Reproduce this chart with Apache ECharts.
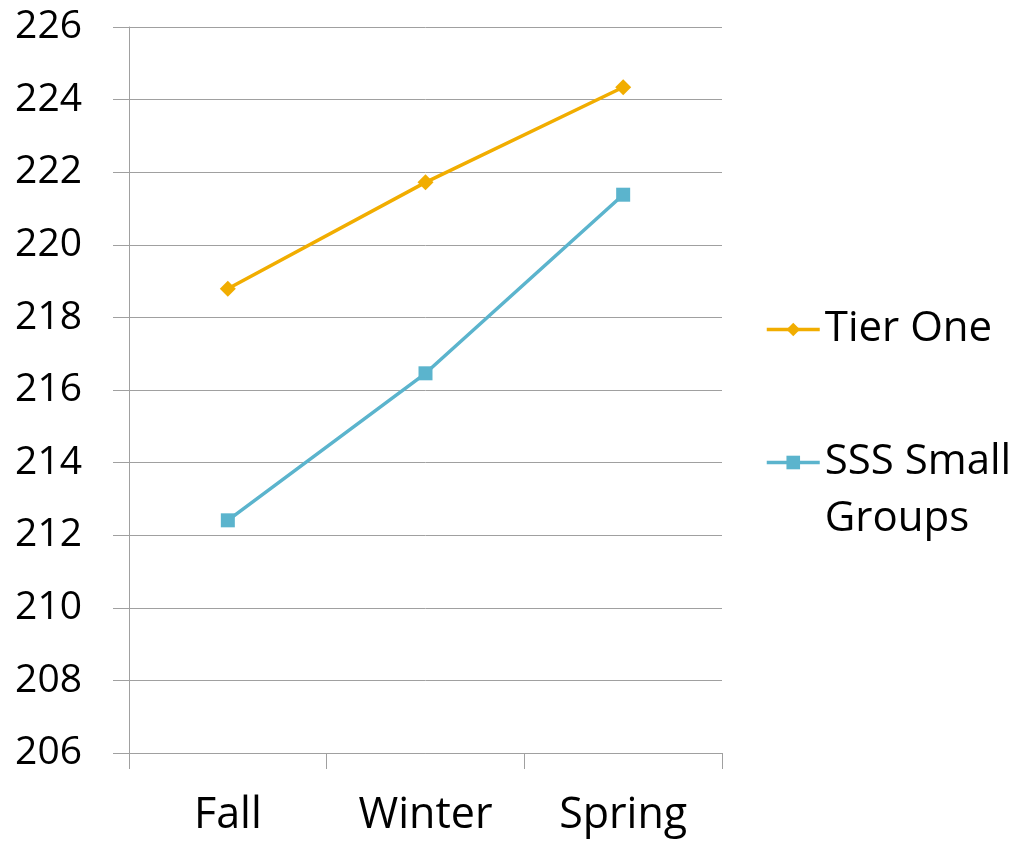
<!DOCTYPE html>
<html>
<head>
<meta charset="utf-8">
<style>
  html, body { margin: 0; padding: 0; background: #fff; }
  #chart { width: 1024px; height: 842px; }
</style>
<script src="https://cdn.jsdelivr.net/npm/echarts@6/dist/echarts.min.js"></script>
</head>
<body>
<div id="chart"></div>
<script>
// Seasonal scores for two groups
var categories = ['Fall', 'Winter', 'Spring'];
var tierOne = [218.79, 221.72, 224.34];
var sssSmallGroups = [212.41, 216.46, 221.38];
var yMin = 206, yMax = 226, yStep = 2;

var FONT = '"Open Sans", "Noto Sans", sans-serif';
var GRID_COLOR = '#a0a0a0';
var ORANGE = '#f1ad00';
var BLUE = '#5bb4cd';

var chart = echarts.init(document.getElementById('chart'), null, { renderer: 'canvas' });

var legendText = { color: '#000', fontFamily: FONT, fontSize: 42, lineHeight: 57 };

chart.setOption({
  animation: false,
  backgroundColor: '#ffffff',
  grid: { left: 129, right: 302, top: 27, bottom: 89, containLabel: false },
  xAxis: {
    type: 'category',
    data: categories,
    boundaryGap: true,
    axisLine: { show: true, lineStyle: { color: GRID_COLOR, width: 1 } },
    axisTick: { show: true, length: 16, lineStyle: { color: GRID_COLOR } },
    axisLabel: { color: '#000', fontFamily: FONT, fontSize: 43, margin: 41 },
    splitLine: { show: false }
  },
  yAxis: {
    type: 'value',
    min: yMin, max: yMax, interval: yStep,
    axisLine: { show: true, lineStyle: { color: GRID_COLOR, width: 1 } },
    axisTick: { show: true, length: 16, lineStyle: { color: GRID_COLOR } },
    axisLabel: { color: '#000', fontFamily: FONT, fontSize: 39, margin: 47 },
    splitLine: { show: true, lineStyle: { color: GRID_COLOR, width: 1 } }
  },
  legend: [{
    orient: 'vertical',
    left: 760, top: 296,
    itemWidth: 53, itemHeight: 17, itemGap: 0,
    lineStyle: { width: 3.5 },
    data: [{ name: 'Tier One' }],
    textStyle: legendText
  }, {
    // leading blank line keeps the marker level with the first text line
    orient: 'vertical',
    left: 760, top: 372,
    itemWidth: 53, itemHeight: 17, itemGap: 0,
    lineStyle: { width: 3.5 },
    data: [{ name: 'SSS Small Groups' }],
    formatter: function () { return '\nSSS Small\nGroups'; },
    textStyle: legendText
  }],
  series: [{
    name: 'Tier One',
    type: 'line',
    data: tierOne,
    symbol: 'diamond',
    symbolSize: 16,
    color: ORANGE,
    lineStyle: { color: ORANGE, width: 3.5 },
    itemStyle: { color: ORANGE }
  }, {
    name: 'SSS Small Groups',
    type: 'line',
    data: sssSmallGroups,
    symbol: 'rect',
    symbolSize: 14,
    color: BLUE,
    lineStyle: { color: BLUE, width: 3.5 },
    itemStyle: { color: BLUE }
  }]
});
</script>
</body>
</html>
